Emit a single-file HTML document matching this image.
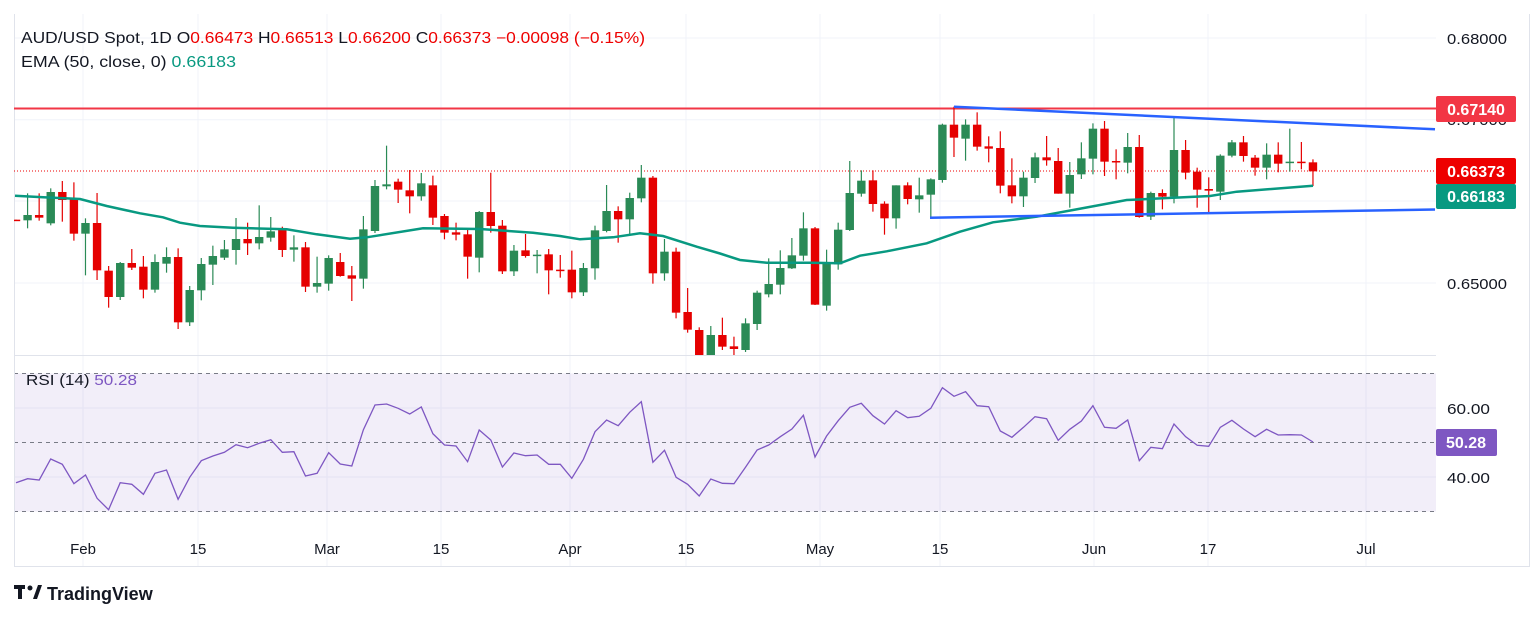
<!DOCTYPE html>
<html><head><meta charset="utf-8"><style>
html,body{margin:0;padding:0;background:#fff;}
svg{display:block;font-family:"Liberation Sans",sans-serif;}
</style></head><body>
<svg id="s" width="1536" height="618" viewBox="0 0 1536 618" xmlns="http://www.w3.org/2000/svg">
<rect width="1536" height="618" fill="#fff"/>
<g id="grid" stroke="#f0f3fa" stroke-width="1"></g>
<rect x="14" y="373.5" width="1422" height="138" fill="#7e57c2" fill-opacity="0.1"/>
<g stroke="#787b86" stroke-dasharray="4,4" stroke-width="1">
<line x1="14" y1="373.5" x2="1436" y2="373.5"/><line x1="14" y1="442.5" x2="1436" y2="442.5"/><line x1="14" y1="511.5" x2="1436" y2="511.5"/>
</g>
<line x1="14" y1="355.5" x2="1436" y2="355.5" stroke="#e0e3eb"/>
<line x1="14" y1="566.5" x2="1530" y2="566.5" stroke="#e0e3eb"/>
<line x1="14.5" y1="14" x2="14.5" y2="567" stroke="#e0e3eb"/>
<line x1="1529.5" y1="14" x2="1529.5" y2="567" stroke="#e0e3eb"/>
<line x1="14" y1="108.5" x2="1436" y2="108.5" stroke="#f23645" stroke-width="2"/>
<line x1="14" y1="171" x2="1436" y2="171" stroke="#e00" stroke-width="1" stroke-dasharray="1,2"/>
<g id="candles"></g>
<polyline id="ema" fill="none" stroke="#089981" stroke-width="2.5"/>
<line x1="954" y1="106.7" x2="1435" y2="129.3" stroke="#2962ff" stroke-width="2.5"/>
<line x1="930" y1="217.7" x2="1435" y2="209.5" stroke="#2962ff" stroke-width="2.5"/>
<polyline id="rsi" fill="none" stroke="#7e57c2" stroke-width="1.3"/>
<g font-size="15" fill="#131722">
<text x="1447" y="44" textLength="60" lengthAdjust="spacingAndGlyphs">0.68000</text>
<text x="1447" y="125" textLength="60" lengthAdjust="spacingAndGlyphs">0.67000</text>
<text x="1447" y="289" textLength="60" lengthAdjust="spacingAndGlyphs">0.65000</text>
<text x="1447" y="414" textLength="43" lengthAdjust="spacingAndGlyphs">60.00</text>
<text x="1447" y="483" textLength="43" lengthAdjust="spacingAndGlyphs">40.00</text>
</g>
<rect x="1436" y="96" width="80" height="26" rx="2" fill="#f23645"/>
<text x="1476" y="115" font-size="16" font-weight="bold" fill="#fff" text-anchor="middle">0.67140</text>
<rect x="1436" y="158" width="80" height="26" rx="2" fill="#e00"/>
<text x="1476" y="177" font-size="16" font-weight="bold" fill="#fff" text-anchor="middle">0.66373</text>
<rect x="1436" y="184" width="80" height="25" rx="2" fill="#089981"/>
<text x="1476" y="202" font-size="16" font-weight="bold" fill="#fff" text-anchor="middle">0.66183</text>
<rect x="1436" y="429" width="61" height="27" rx="2" fill="#7e57c2"/>
<text x="1466" y="448" font-size="16" font-weight="bold" fill="#fff" text-anchor="middle">50.28</text>
<g font-size="15" fill="#131722" text-anchor="middle">
<text x="83" y="554">Feb</text><text x="198" y="554">15</text><text x="327" y="554">Mar</text>
<text x="441" y="554">15</text><text x="570" y="554">Apr</text><text x="686" y="554">15</text>
<text x="820" y="554">May</text><text x="940" y="554">15</text><text x="1094" y="554">Jun</text>
<text x="1208" y="554">17</text><text x="1366" y="554">Jul</text>
</g>
<text x="21" y="43" font-size="15.5" fill="#131722" textLength="624" lengthAdjust="spacingAndGlyphs">AUD/USD Spot, 1D  O<tspan fill="#e00">0.66473</tspan>  H<tspan fill="#e00">0.66513</tspan>  L<tspan fill="#e00">0.66200</tspan>  C<tspan fill="#e00">0.66373</tspan>  <tspan fill="#e00">−0.00098 (−0.15%)</tspan></text>
<text x="21" y="67" font-size="15.5" fill="#131722" textLength="215" lengthAdjust="spacingAndGlyphs">EMA (50, close, 0)  <tspan fill="#089981">0.66183</tspan></text>
<text x="26" y="385" font-size="15" fill="#131722" textLength="111" lengthAdjust="spacingAndGlyphs">RSI (14)  <tspan fill="#7e57c2">50.28</tspan></text>
<g fill="#131722">
<rect x="14" y="585" width="11" height="4"/><rect x="18" y="585" width="4" height="14"/>
<circle cx="30" cy="588" r="2.5"/><polygon points="33,599 38,585 42,585 37,599"/>
</g>
<text x="47" y="600" font-size="18" font-weight="bold" fill="#131722">TradingView</text>
</svg>
<script>
var NS="http://www.w3.org/2000/svg";
function el(t,a,p){var e=document.createElementNS(NS,t);for(var k in a)e.setAttribute(k,a[k]);p.appendChild(e);return e;}
var grid=document.getElementById('grid');
[83,198,327,441,570,686,820,940,1094,1208,1366].forEach(function(x){el('line',{x1:x,y1:14,x2:x,y2:566},grid);});
[38,119.7,201,283,408,477].forEach(function(y){el('line',{x1:14,y1:y,x2:1436,y2:y},grid);});
var C=[
['r',130,269,272,269,272],['g',130,255,271,190,295],['r',130,255,263,190,272],['g',130,186,280,175,286],
['r',130,186,210,153,275],['r',130,208,311,157,332],['g',130,279,311,265,436],['r',130,279,421,189,450],
['r',130,422,501,408,533],['g',130,399,501,396,510],['r',130,399,413,357,420],['r',130,410,479,378,505],
['g',130,396,479,373,488],['g',130,381,401,352,428],['r',130,381,577,355,597],['g',130,480,577,468,588],
['g',130,402,481,384,511],['g',130,378,404,347,465],['g',130,358,383,330,390],['g',130,327,360,264,404],
['r',130,327,340,278,375],['g',130,321,340,226,358],['g',130,304,323,261,335],['r',130,300,360,290,381],
['g',130,352,359,316,395],['r',130,352,470,336,486],['g',130,459,470,380,488],['g',130,384,461,376,482],
['r',130,396,438,369,440],['r',130,436,446,408,513],['g',130,298,446,258,476],['g',130,168,303,150,309],
['g',130,163,169,47,178],['r',130,155,179,146,219],['r',130,181,199,120,250],['g',130,160,199,129,212],
['r',130,166,263,137,285],['r',130,258,308,252,328],['r',130,307,314,278,331],['r',130,313,380,300,446],
['g',130,246,383,243,427],['r',130,246,288,128,308],['r',130,287,424,270,432],['g',130,362,424,345,438],
['r',130,361,378,312,383],['g',130,374,378,360,430],['r',130,373,421,357,493],['r',130,419,421,375,443],
['r',130,419,487,362,505],['g',130,414,487,399,498],['g',130,301,415,287,449],['g',130,243,303,165,307],
['r',130,243,268,229,338],['g',130,204,268,188,312],['g',130,143,205,105,217],['r',130,143,430,138,461],
['g',130,365,430,327,452],['r',130,365,548,353,565],['r',130,546,599,474,608],
['r',270,180,255,172,255],['g',270,195,255,168,255],['r',270,195,230,143,240],['r',270,229,237,200,255],
['g',270,160,240,145,246],['g',270,68,162,62,180],
['g',90,582,613,505,622],['g',90,534,584,481,613],['g',90,496,535,444,537],['g',90,415,497,367,512],
['r',90,415,644,411,645],['g',90,517,647,479,662],['g',90,419,523,398,539],['g',90,309,420,213,423],
['g',90,272,311,241,320],['r',90,271,342,241,365],['r',90,341,385,334,434],['g',90,286,385,286,416],
['r',90,286,327,277,343],['g',90,316,328,263,368],['g',90,268,314,265,384],['g',90,104,270,101,278],
['r',90,104,143,50,201],['g',90,104,146,88,212],['r',90,104,170,67,182],['r',90,169,176,139,217],
['r',90,174,287,124,310],['r',90,286,319,205,340],['g',90,263,319,245,351],['g',90,202,264,188,279],
['r',90,202,211,138,227],['r',90,213,311,174,311],['g',90,255,311,216,353],
['g',90,205,253,157,267],['g',90,116,206,100,253],['r',90,116,215,93,258],['r',90,213,216,178,268],
['g',90,171,218,129,250],['r',90,171,381,135,383],['g',90,309,380,305,390],['r',90,309,320,298,358],
['g',90,180,320,78,340],['r',90,180,248,150,268],['r',90,245,299,233,353],['r',90,297,302,262,367],
['g',90,197,305,193,330],['g',90,157,197,150,202],['r',90,157,198,138,215],['r',90,203,233,195,257],
['g',90,194,233,160,268],['r',90,194,221,157,247],['g',90,215,217,116,245],['r',90,215,217,156,238],
['r',90,217,244,208,288]];
var cg=document.getElementById('candles');
C.forEach(function(c,i){
 var x=16+i*11.58, b=c[1], col=c[0]=='g'?'#2a8a56':'#e50000';
 var t=b+c[2]/3, bt=b+c[3]/3, wt=b+c[4]/3, wb=b+c[5]/3;
 if(bt-t<1.5){bt=t+1.5;}
 el('line',{x1:x,y1:wt,x2:x,y2:wb,stroke:col,'stroke-width':1.2},cg);
 var L=Math.max(14,x-4.2);
 el('rect',{x:L,y:t,width:x+4.2-L,height:bt-t,fill:col},cg);
});
var E=[[15,195.7],[43.3,197.3],[80,199],[106.7,206],[140,213.3],[163,217.3],[180,222.7],[200,226],[233,227.7],[286.7,229.3],[316.7,234.3],[350,238.7],[366.7,237.3],[423,228.3],[480,229],[533,232.7],[560,236],[580,239.3],[613,237.3],[640,233.3],[663,236],[696.7,246.7],[720,253.5],[740,260],[766.7,262.7],[810,262.7],[840,263.3],[860,255.7],[886.7,251.3],[926.7,243.3],[960,231.7],[993,222.3],[1036.7,216.7],[1073,210],[1100,205],[1126.7,200],[1163,198.3],[1210,196],[1236.7,191.7],[1313,185.7]];
document.getElementById('ema').setAttribute('points',E.map(function(p){return p.join(',')}).join(' '));
var R1=[383,371,375,312,328,386,360,430,464,383,388,418,355,345,433,367,317,303,292,269,278,265,254,292,290,363,355,293,327,333,224,150,147,160,177,156,236,270,273,320,225,255,336,294,302,300,328,328,370,313,230,195,212,172,140,322,286,367,388];
var R2=[423,372,385,386,337,285,270,245,222,181,306,243,197,157,145,182,207,167,188,184,160,98,124,110,152,155,228,247,217,185,191,256,223,198,152,217,220,195,317,277,281,207,245,271,274,217,196,222,245,223,240,239,240,261];
var R=R1.concat(R2), pts=[];
R.forEach(function(v,i){pts.push((16+i*11.58).toFixed(1)+','+(355+v/3).toFixed(1));});
document.getElementById('rsi').setAttribute('points',pts.join(' '));
</script>
</body></html>
